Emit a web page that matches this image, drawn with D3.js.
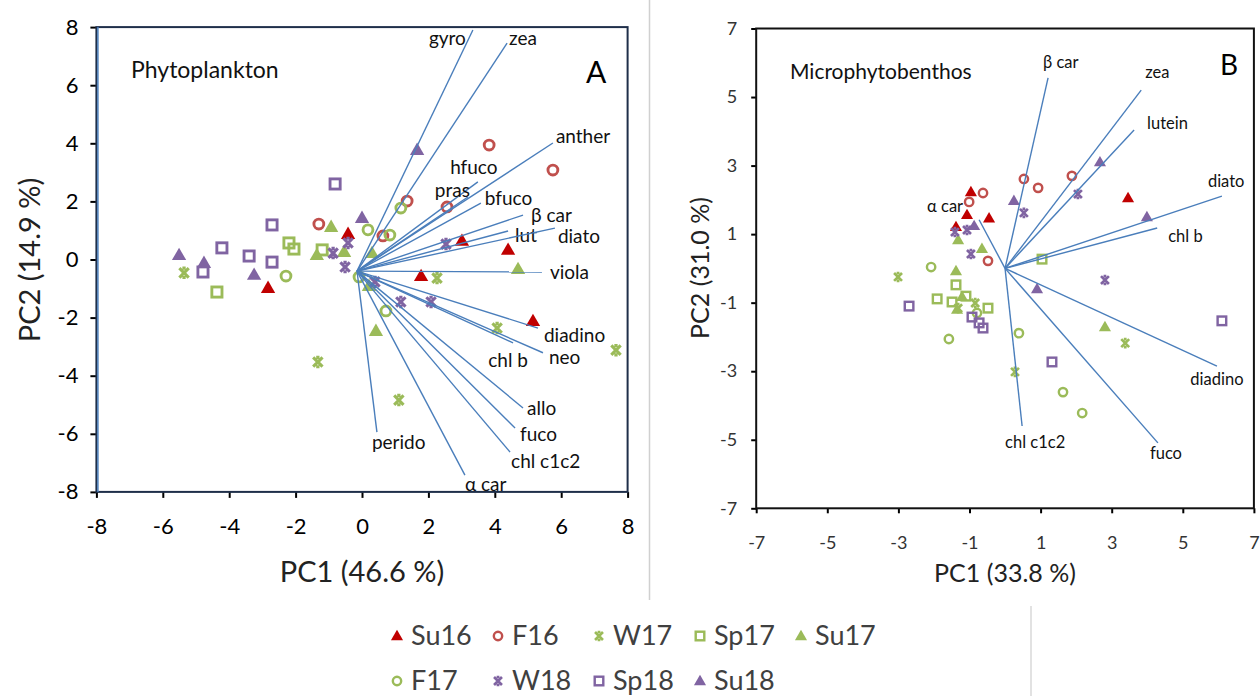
<!DOCTYPE html>
<html><head><meta charset="utf-8">
<script src="https://cdn.jsdelivr.net/npm/d3@7"></script>
<style>body{margin:0;background:#fff} text{font-family:Lato,"Liberation Sans",sans-serif}</style>
</head><body><svg id="c" width="1260" height="696"></svg>
<script>
// ---------- DATA ----------
const seriesNames = ["Su16","F16","W17","Sp17","Su17","F17","W18","Sp18","Su18"];
const phytoTicks = [-8,-6,-4,-2,0,2,4,6,8];
const microTicks = [-7,-5,-3,-1,1,3,5,7];

// Phytoplankton scores [PC1, PC2]
const phytoSu16 = [[-0.42,0.88],[-2.83,-0.98],[1.78,-0.57],[3.01,0.64],[4.40,0.33],[5.15,-2.12]];
const phytoF16  = [[3.83,3.94],[5.75,3.08],[1.36,2.01],[2.56,1.81],[0.63,0.81],[-1.30,1.22]];
const phytoW17  = [[-5.36,-0.46],[-1.33,-3.53],[1.11,-4.84],[2.26,-0.64],[4.07,-2.36],[7.65,-3.12]];
const phytoSp17 = [[-4.37,-1.12],[-2.20,0.57],[-2.05,0.36],[-1.20,0.33]];
const phytoSu17 = [[-0.93,1.12],[-1.36,0.15],[-0.54,0.26],[0.30,0.22],[4.70,-0.33],[0.42,-2.46],[0.21,-0.91]];
const phytoF17  = [[0.18,1.02],[1.17,1.77],[0.84,0.84],[-2.29,-0.57],[0.72,-1.77],[-0.09,-0.60]];
const phytoW18  = [[-0.42,0.57],[-0.87,0.22],[-0.51,-0.26],[0.39,-0.77],[1.17,-1.46],[2.08,-1.46],[2.53,0.53]];
const phytoSp18 = [[-0.81,2.60],[-2.71,1.19],[-4.22,0.40],[-3.40,0.12],[-2.71,-0.09],[-4.79,-0.43]];
const phytoSu18 = [[1.66,3.77],[0.00,1.43],[-5.51,0.15],[-4.76,-0.12],[-3.25,-0.53]];

// Phytoplankton loadings (vector tips)
const phytoVarNames = ["gyro","zea","anther","hfuco","pras","bfuco","β car","lut","diato","viola","diadino","neo","chl b","allo","fuco","chl c1c2","α car","perido"];
const phytoVarPC1 = [3.34,4.37,5.75,3.49,3.19,3.58,4.85,4.40,5.81,5.42,5.30,5.45,4.55,4.85,4.61,4.46,3.10,0.45];
const phytoVarPC2 = [7.90,7.45,4.01,2.67,2.15,1.94,1.53,0.98,1.08,-0.43,-2.36,-3.21,-2.87,-5.11,-5.80,-6.63,-7.42,-5.94];
const phytoOrigin = [-0.15,-0.40];

// Microphytobenthos scores
const microSu16 = [[-0.96,2.23],[-1.07,1.56],[-0.45,1.46],[-1.38,1.21],[3.46,2.05]];
const microF16  = [[-0.62,2.20],[-1.01,1.94],[-0.48,0.22],[0.53,2.61],[0.93,2.35],[1.88,2.70]];
const microW17  = [[-3.01,-0.25],[-0.84,-1.01],[-1.32,-1.16],[0.28,-3.02],[3.38,-2.18]];
const microSp17 = [[-1.38,-0.48],[-1.91,-0.89],[-1.49,-0.98],[-1.10,-0.81],[-0.48,-1.16],[1.04,0.27]];
const microSu17 = [[-1.32,0.83],[-0.65,0.57],[-1.38,-0.08],[-1.21,-0.83],[-1.35,-1.20],[2.81,-1.71]];
const microF17  = [[-2.08,0.04],[-0.79,-1.30],[-1.58,-2.06],[0.39,-1.89],[1.63,-3.61],[2.17,-4.22]];
const microW18  = [[-1.41,1.06],[-1.07,1.12],[-0.96,0.42],[0.53,1.62],[2.05,2.17],[2.81,-0.34]];
const microSp18 = [[-2.70,-1.10],[-0.93,-1.42],[-0.73,-1.59],[-0.62,-1.74],[1.32,-2.73],[6.10,-1.53]];
const microSu18 = [[-0.87,1.24],[0.25,1.97],[2.67,3.10],[3.99,1.50],[0.90,-0.60]];

const microVarNames = ["β car","zea","lutein","diato","chl b","diadino","fuco","chl c1c2","α car"];
const microVarPC1 = [1.21,3.83,3.63,6.10,4.28,5.96,4.30,0.48,-0.73];
const microVarPC2 = [5.56,5.20,4.04,2.11,1.18,-2.85,-5.09,-4.60,1.42];
const microOrigin = [0,0];

// ---------- STYLE / LAYOUT ----------
const seriesStyle = {
  Su16:{shape:"tri",color:"#c00000"}, F16:{shape:"circ",color:"#c0504d"},
  W17:{shape:"star",color:"#9bbb59"}, Sp17:{shape:"sq",color:"#9bbb59"},
  Su17:{shape:"tri",color:"#9bbb59"}, F17:{shape:"circ",color:"#9bbb59"},
  W18:{shape:"star",color:"#8064a2"}, Sp18:{shape:"sq",color:"#8064a2"},
  Su18:{shape:"tri",color:"#8064a2"}
};
const vecColor = "#4a7ebb";
const phytoLabelPos = { // anchor, dx, dy from vector tip
  "gyro":["end",-7,15],"zea":["start",2,2],"anther":["start",3,0],"hfuco":["middle",-4,-8],
  "pras":["end",2,0],"bfuco":["start",4,2],"β car":["start",8,7],"lut":["start",7,11],
  "diato":["start",3,15],"viola":["start",8,7],"diadino":["start",6,14],"neo":["start",6,11],
  "chl b":["middle",-5,24],"allo":["start",4,7],"fuco":["start",5,13],"chl c1c2":["start",1,16],
  "α car":["start",0,16],"perido":["start",-5,17]};
const microLabelPos = {
  "β car":["start",-5,-10],"zea":["start",4,-12],"lutein":["start",13,-1],"diato":["start",-14,-9],
  "chl b":["start",11,14],"diadino":["middle",0,19],"fuco":["start",-8,16],"chl c1c2":["start",-17,22],
  "α car":["end",-16,-8]};

const svg = d3.select("#c");

function drawMarker(g, shape, color, cx, cy, s) {
  if (shape === "tri") {
    const h = s*0.95, w = s*1.1;
    g.append("path").attr("d",`M${cx},${cy-h*0.6}L${cx+w/2},${cy+h*0.4}L${cx-w/2},${cy+h*0.4}Z`).attr("fill",color);
  } else if (shape === "circ") {
    g.append("circle").attr("cx",cx).attr("cy",cy).attr("r",s*0.38).attr("fill","none").attr("stroke",color).attr("stroke-width",s*0.22);
  } else if (shape === "sq") {
    const a = s*0.78;
    g.append("rect").attr("x",cx-a/2).attr("y",cy-a/2).attr("width",a).attr("height",a).attr("fill","none").attr("stroke",color).attr("stroke-width",s*0.22);
  } else if (shape === "star") {
    const r = s*0.36;
    g.append("path").attr("d",`M${cx-r},${cy-r}L${cx+r},${cy+r}M${cx+r},${cy-r}L${cx-r},${cy+r}M${cx-r*0.35},${cy-r}L${cx+r*0.35},${cy-r}M${cx-r*0.35},${cy+r}L${cx+r*0.35},${cy+r}`)
      .attr("stroke",color).attr("stroke-width",s*0.24).attr("fill","none");
  }
}

const fmt = d => String(d);

function panel(cfg) {
  const x = d3.scaleLinear().domain(cfg.dom).range(cfg.xr);
  const y = d3.scaleLinear().domain(cfg.dom).range(cfg.yr);
  const g = svg.append("g");
  const xa = g.append("g").attr("transform",`translate(0,${cfg.yr[0]})`)
    .call(d3.axisBottom(x).tickValues(cfg.ticks).tickSize(cfg.tick).tickPadding(cfg.xpad).tickFormat(fmt));
  const ya = g.append("g").attr("transform",`translate(${cfg.xr[0]},0)`)
    .call(d3.axisLeft(y).tickValues(cfg.ticks).tickSize(cfg.tick).tickPadding(cfg.ypad).tickFormat(fmt));
  [xa,ya].forEach(a=>{
    a.select(".domain").remove();
    a.selectAll("line").attr("stroke","#000").attr("stroke-width",2);
    a.selectAll("text").attr("font-size",cfg.tickFont).attr("fill",cfg.tickColor).attr("font-family","Lato");
  });
  const pg = g.append("g");
  cfg.series.forEach((arr,i)=>{
    const st = seriesStyle[seriesNames[i]];
    arr.forEach(p=>drawMarker(pg, st.shape, st.color, x(p[0]), y(p[1]), cfg.ms));
  });
  const vg = g.append("g");
  cfg.names.forEach((n,i)=>{
    const x1 = x(cfg.origin[0]), y1 = y(cfg.origin[1]);
    const x2 = x(cfg.pc1[i]), y2 = y(cfg.pc2[i]);
    vg.append("line").attr("x1",x1).attr("y1",y1).attr("x2",x2).attr("y2",y2)
      .attr("stroke",vecColor).attr("stroke-width",1.4);
    const lp = cfg.lab[n];
    vg.append("text").attr("x",x2+lp[1]).attr("y",y2+lp[2]).attr("text-anchor",lp[0])
      .attr("font-size",cfg.labFont).attr("fill","#111").text(n);
  });
  g.append("rect").attr("x",cfg.xr[0]).attr("y",cfg.yr[1]).attr("width",cfg.xr[1]-cfg.xr[0]).attr("height",cfg.yr[0]-cfg.yr[1])
    .attr("fill","none").attr("stroke",cfg.frame).attr("stroke-width",2);
  if (cfg.leftBlue) g.append("line").attr("x1",cfg.xr[0]+1.5).attr("x2",cfg.xr[0]+1.5).attr("y1",cfg.yr[1]).attr("y2",cfg.yr[0])
    .attr("stroke","#4a7ebb").attr("stroke-width",1.5);
  g.append("text").attr("x",cfg.titleX[0]).attr("y",cfg.titleX[1]).attr("text-anchor","middle")
    .attr("font-size",cfg.axFont).attr("fill","#222").text(cfg.xTitle);
  g.append("text").attr("transform",`translate(${cfg.titleY[0]},${cfg.titleY[1]}) rotate(-90)`).attr("text-anchor","middle")
    .attr("font-size",cfg.axFont).attr("fill","#222").text(cfg.yTitle);
  g.append("text").attr("x",cfg.name[0]).attr("y",cfg.name[1]).attr("font-size",cfg.nameFont).attr("fill","#111").text(cfg.name[2]);
  g.append("text").attr("x",cfg.letter[0]).attr("y",cfg.letter[1]).attr("font-size",cfg.letterFont)
    .attr("font-family","Liberation Serif").attr("fill","#000").text(cfg.letter[2]);
}

panel({dom:[-8,8], xr:[96.4,627.6], yr:[491.9,27.1], ticks:phytoTicks, tick:6, xpad:20, ypad:12,
  tickFont:22, tickColor:"#000", ms:13,
  series:[phytoSu16,phytoF16,phytoW17,phytoSp17,phytoSu17,phytoF17,phytoW18,phytoSp18,phytoSu18],
  names:phytoVarNames, pc1:phytoVarPC1, pc2:phytoVarPC2, origin:phytoOrigin, lab:phytoLabelPos, labFont:19,
  frame:"#1f2f4a", leftBlue:true,
  xTitle:"PC1 (46.6 %)", yTitle:"PC2 (14.9 %)", titleX:[362,582], titleY:[40,260], axFont:29,
  name:[131,78,"Phytoplankton"], nameFont:23, letter:[586,83,"A"], letterFont:30});

panel({dom:[-7,7], xr:[756.2,1253.9], yr:[508.3,28.5], ticks:microTicks, tick:5, xpad:23, ypad:14,
  tickFont:18, tickColor:"#333", ms:11,
  series:[microSu16,microF16,microW17,microSp17,microSu17,microF17,microW18,microSp18,microSu18],
  names:microVarNames, pc1:microVarPC1, pc2:microVarPC2, origin:microOrigin, lab:microLabelPos, labFont:16.5,
  frame:"#111", leftBlue:false,
  xTitle:"PC1 (33.8 %)", yTitle:"PC2 (31.0 %)", titleX:[1005,582], titleY:[709,268], axFont:25,
  name:[790,79,"Microphytobenthos"], nameFont:21, letter:[1220,75,"B"], letterFont:28});

svg.append("line").attr("x1",649.5).attr("x2",649.5).attr("y1",0).attr("y2",600).attr("stroke","#d0d0d0").attr("stroke-width",1.5);
svg.append("line").attr("x1",1031).attr("x2",1031).attr("y1",606).attr("y2",696).attr("stroke","#d9d9d9").attr("stroke-width",1.5);

const lg = svg.append("g");
seriesNames.forEach((n,i)=>{
  const row = i<5?0:1, col = i<5?i:i-5;
  const cx = 397 + col*101, cy = row===0?636:681;
  const st = seriesStyle[n];
  drawMarker(lg, st.shape, st.color, cx, cy, 11);
  lg.append("text").attr("x",cx+14).attr("y",cy+9).attr("font-size",27).attr("fill","#404040").text(n);
});
</script></body></html>
